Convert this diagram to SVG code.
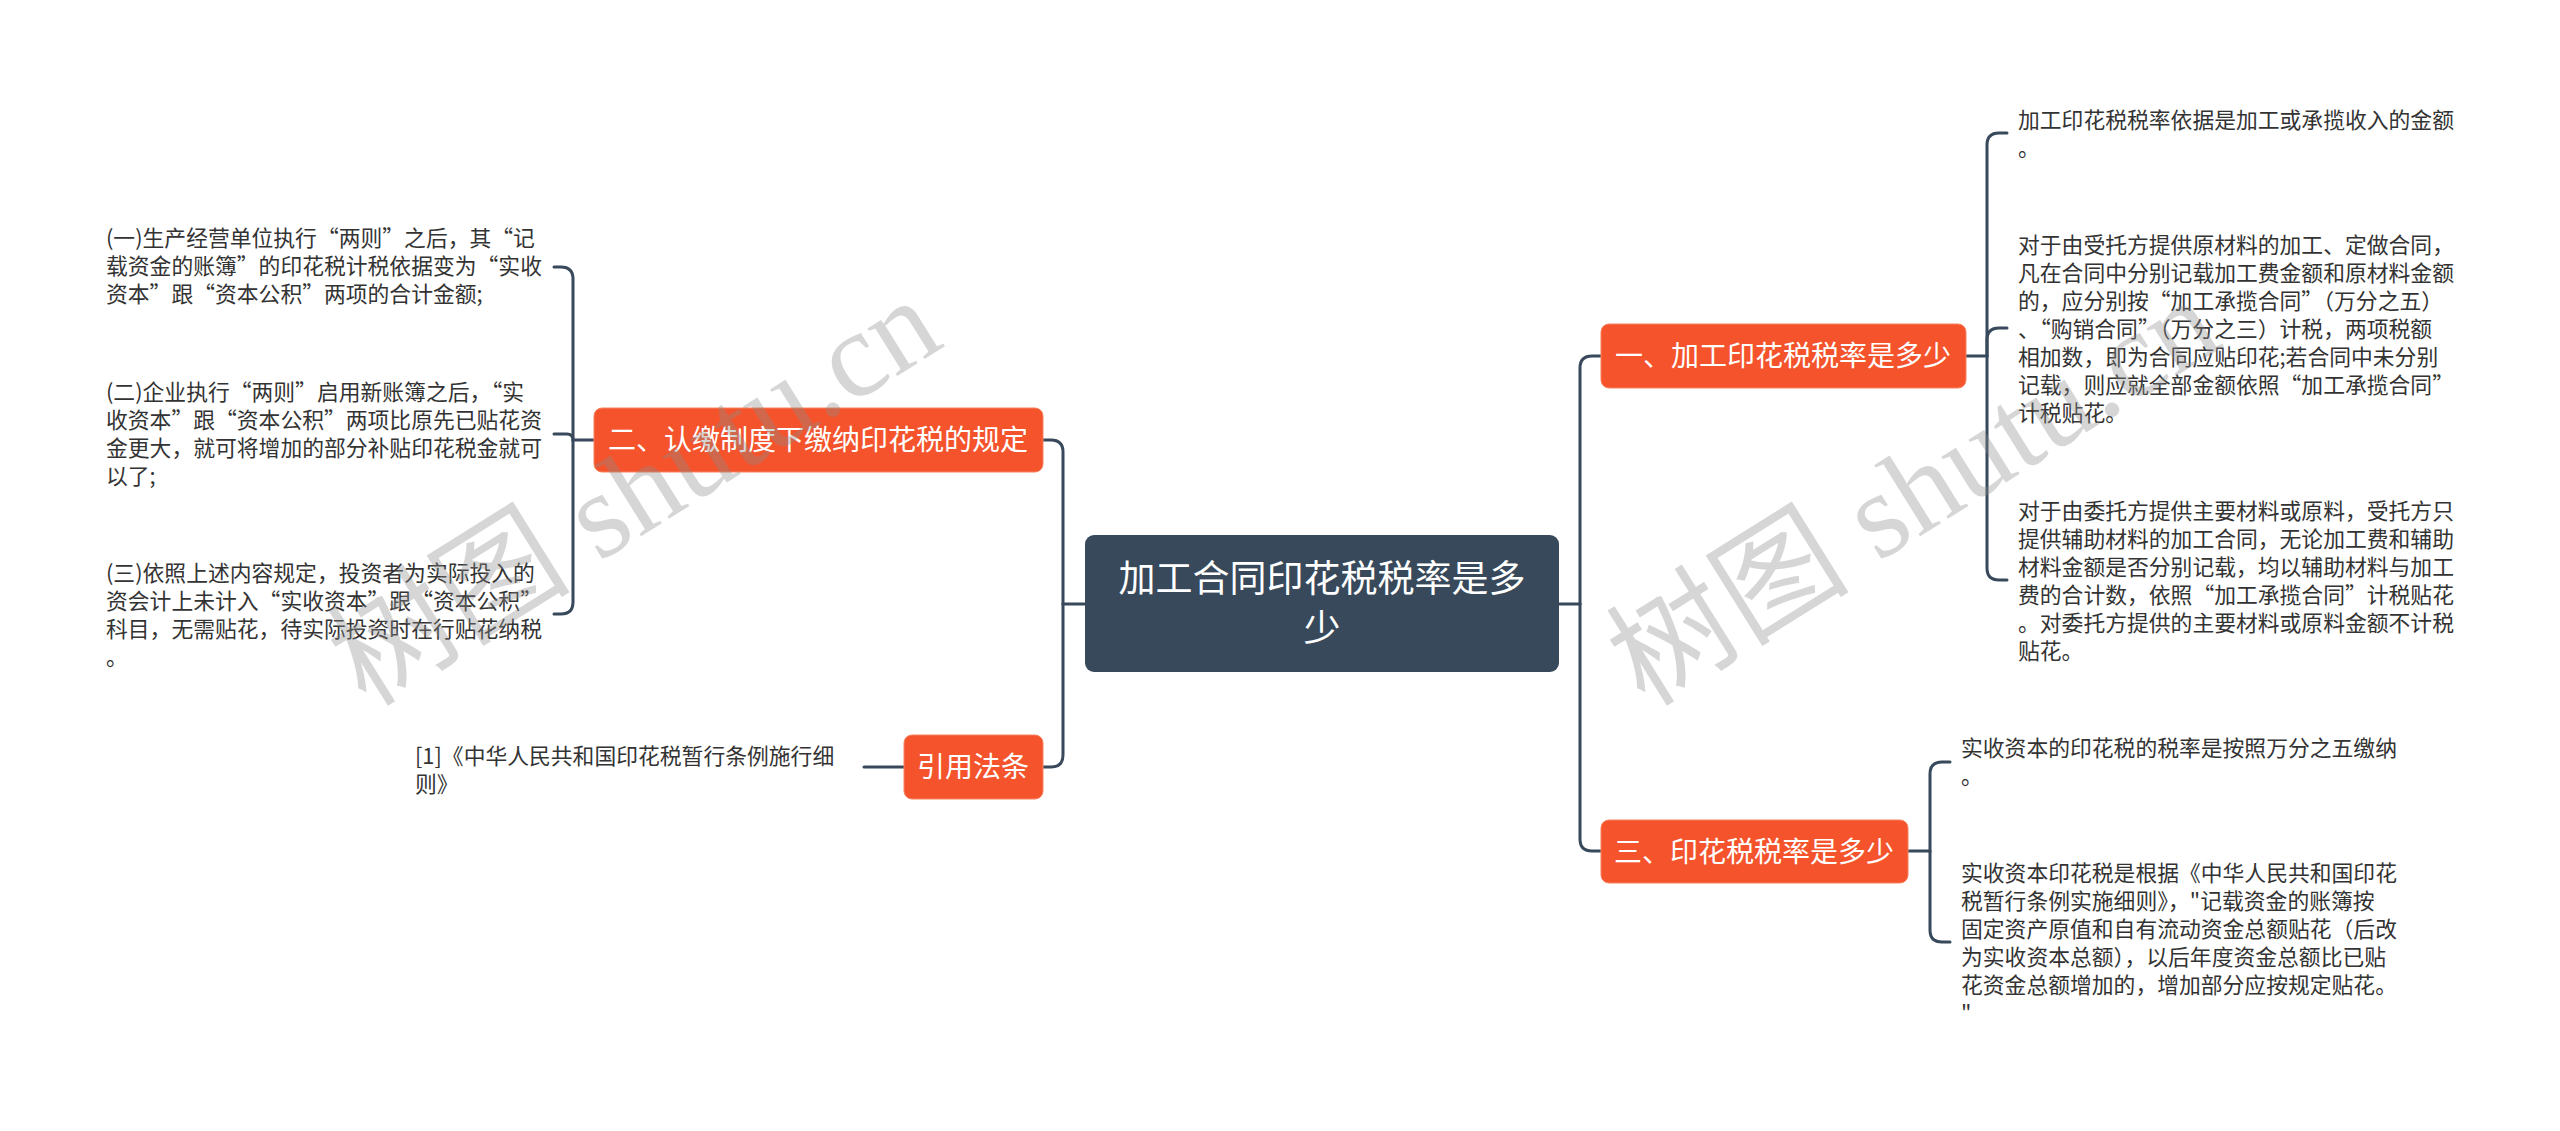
<svg xmlns="http://www.w3.org/2000/svg" width="2560" height="1131" viewBox="0 0 2560 1131">
<style>
.bg{fill:#ffffff}
.conn{fill:none;stroke:#37495b;stroke-width:3;stroke-linecap:round}
.root{fill:#37495b}
.main{fill:#f4532c;stroke:#f7825f;stroke-width:1}
.rt{font-family:"Noto Sans CJK SC","Noto Sans",sans-serif;font-size:37px;fill:#ffffff;text-anchor:middle}
.mt{font-family:"Noto Sans CJK SC","Noto Sans",sans-serif;font-size:28px;fill:#ffffff;text-anchor:middle}
.lt{font-family:"Noto Sans CJK SC","Noto Sans",sans-serif;font-size:21.8px;fill:#333333}
.wm{font-family:"Liberation Serif","Noto Sans CJK SC",serif;font-size:122px;fill:#8c8c8c;opacity:0.35}
</style>
<rect class="bg" x="0" y="0" width="2560" height="1131"/>
<g id="connectors">
<path class="conn" d="M1559,604 H1580"/>
<path class="conn" d="M1580,604 V368 Q1580,356 1592,356 H1601"/>
<path class="conn" d="M1580,604 V839 Q1580,851 1592,851 H1601"/>
<path class="conn" d="M1086,604 H1063"/>
<path class="conn" d="M1063,604 V452 Q1063,440 1051,440 H1043"/>
<path class="conn" d="M1063,604 V755 Q1063,767 1051,767 H1043"/>
<path class="conn" d="M1966,356 H1987 V145 Q1987,133 1999,133 H2007"/>
<path class="conn" d="M1987,356 V340 Q1987,328 1999,328 H2007"/>
<path class="conn" d="M1987,356 V568 Q1987,580 1999,580 H2007"/>
<path class="conn" d="M1908,851 H1930 V774 Q1930,762 1942,762 H1950"/>
<path class="conn" d="M1930,851 V930 Q1930,942 1942,942 H1950"/>
<path class="conn" d="M594,440 H573 V279 Q573,267 561,267 H554"/>
<path class="conn" d="M573,440 Q573,434 567,434 H554"/>
<path class="conn" d="M573,440 V602 Q573,614 561,614 H554"/>
<path class="conn" d="M904,767 H864"/>
</g>
<g id="root">
<rect class="root" x="1085" y="535" width="474" height="137" rx="9"/>
<text class="rt" x="1322" y="592">加工合同印花税税率是多</text>
<text class="rt" x="1322" y="642">少</text>
</g>
<g id="branch1">
<rect class="main" x="1601" y="324" width="365" height="64" rx="8"/>
<text class="mt" x="1783" y="366">一、加工印花税税率是多少</text>
</g>
<g id="branch2">
<rect class="main" x="594" y="408" width="449" height="64" rx="8"/>
<text class="mt" x="818" y="450">二、认缴制度下缴纳印花税的规定</text>
</g>
<g id="branch3">
<rect class="main" x="1601" y="820" width="307" height="63" rx="8"/>
<text class="mt" x="1754" y="862">三、印花税税率是多少</text>
</g>
<g id="branch4">
<rect class="main" x="904" y="735" width="139" height="64" rx="8"/>
<text class="mt" x="973" y="777">引用法条</text>
</g>
<g id="leaf1-1">
<text class="lt" x="2018" y="128">加工印花税税率依据是加工或承揽收入的金额</text>
<text class="lt" x="2018" y="156">。</text>
</g>
<g id="leaf1-2">
<text class="lt" x="2018" y="253">对于由受托方提供原材料的加工、定做合同，</text>
<text class="lt" x="2018" y="281">凡在合同中分别记载加工费金额和原材料金额</text>
<text class="lt" x="2018" y="309">的，应分别按“加工承揽合同”（万分之五）</text>
<text class="lt" x="2018" y="337">、“购销合同”（万分之三）计税，两项税额</text>
<text class="lt" x="2018" y="365">相加数，即为合同应贴印花;若合同中未分别</text>
<text class="lt" x="2018" y="393">记载，则应就全部金额依照“加工承揽合同”</text>
<text class="lt" x="2018" y="421">计税贴花。</text>
</g>
<g id="leaf1-3">
<text class="lt" x="2018" y="519">对于由委托方提供主要材料或原料，受托方只</text>
<text class="lt" x="2018" y="547">提供辅助材料的加工合同，无论加工费和辅助</text>
<text class="lt" x="2018" y="575">材料金额是否分别记载，均以辅助材料与加工</text>
<text class="lt" x="2018" y="603">费的合计数，依照“加工承揽合同”计税贴花</text>
<text class="lt" x="2018" y="631">。对委托方提供的主要材料或原料金额不计税</text>
<text class="lt" x="2018" y="659">贴花。</text>
</g>
<g id="leaf3-1">
<text class="lt" x="1961" y="756">实收资本的印花税的税率是按照万分之五缴纳</text>
<text class="lt" x="1961" y="784">。</text>
</g>
<g id="leaf3-2">
<text class="lt" x="1961" y="881">实收资本印花税是根据《中华人民共和国印花</text>
<text class="lt" x="1961" y="909">税暂行条例实施细则》，"记载资金的账簿按</text>
<text class="lt" x="1961" y="937">固定资产原值和自有流动资金总额贴花（后改</text>
<text class="lt" x="1961" y="965">为实收资本总额），以后年度资金总额比已贴</text>
<text class="lt" x="1961" y="993">花资金总额增加的，增加部分应按规定贴花。</text>
<text class="lt" x="1961" y="1021">"</text>
</g>
<g id="leaf2-1">
<text class="lt" x="106" y="246">(一)生产经营单位执行“两则”之后，其“记</text>
<text class="lt" x="106" y="274">载资金的账簿”的印花税计税依据变为“实收</text>
<text class="lt" x="106" y="302">资本”跟“资本公积”两项的合计金额;</text>
</g>
<g id="leaf2-2">
<text class="lt" x="106" y="400">(二)企业执行“两则”启用新账簿之后，“实</text>
<text class="lt" x="106" y="428">收资本”跟“资本公积”两项比原先已贴花资</text>
<text class="lt" x="106" y="456">金更大，就可将增加的部分补贴印花税金就可</text>
<text class="lt" x="106" y="484">以了;</text>
</g>
<g id="leaf2-3">
<text class="lt" x="106" y="581">(三)依照上述内容规定，投资者为实际投入的</text>
<text class="lt" x="106" y="609">资会计上未计入“实收资本”跟“资本公积”</text>
<text class="lt" x="106" y="637">科目，无需贴花，待实际投资时在行贴花纳税</text>
<text class="lt" x="106" y="665">。</text>
</g>
<g id="leaf4-1">
<text class="lt" x="415" y="764">[1]《中华人民共和国印花税暂行条例施行细</text>
<text class="lt" x="415" y="792">则》</text>
</g>
<g id="watermarks">
<text class="wm" x="366" y="708" transform="rotate(-32 366 708)">树图 shutu.cn</text>
<text class="wm" x="1645" y="708" transform="rotate(-32 1645 708)">树图 shutu.cn</text>
</g>
</svg>
